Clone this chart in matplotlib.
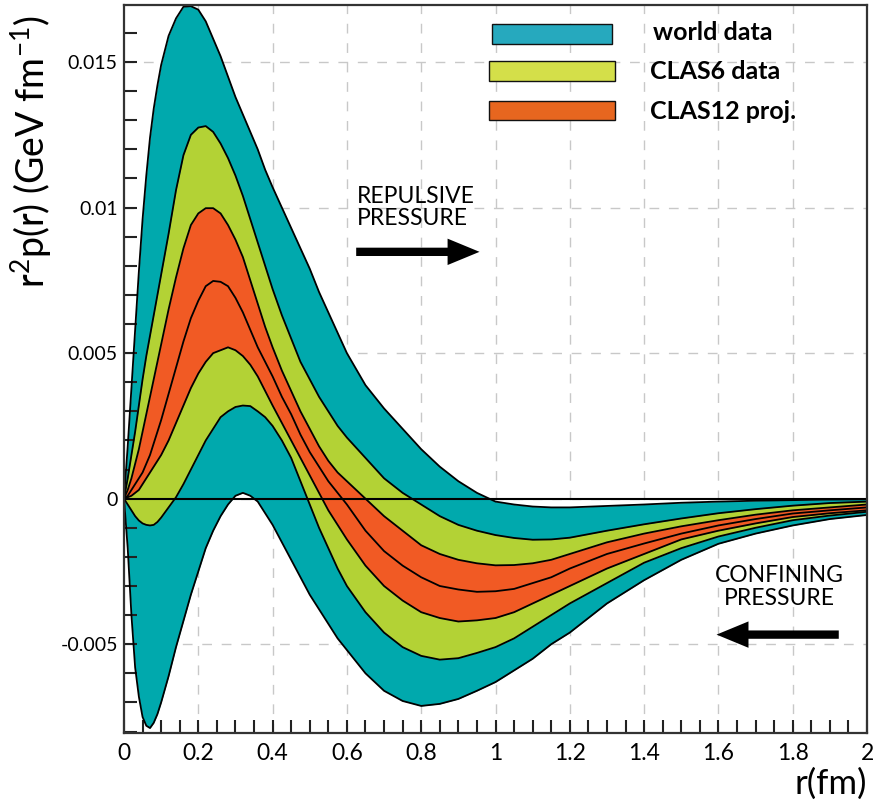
import matplotlib
matplotlib.use("Agg")
import matplotlib.pyplot as plt
from matplotlib.patches import Rectangle
from matplotlib.ticker import MultipleLocator, FixedLocator

# ---------------- data ----------------
r = [0, 0.01, 0.02, 0.03, 0.04, 0.05, 0.06, 0.07, 0.08, 0.09, 0.1,
     0.12, 0.14, 0.16, 0.18, 0.2, 0.22, 0.24, 0.26, 0.28, 0.3, 0.32, 0.34,
     0.36, 0.38, 0.4, 0.425, 0.45, 0.475, 0.5, 0.525, 0.55, 0.575, 0.6,
     0.65, 0.7, 0.75, 0.8, 0.85, 0.9, 0.95, 1.0, 1.05, 1.1, 1.15, 1.2,
     1.3, 1.4, 1.5, 1.6, 1.7, 1.8, 1.9, 2.0]

world_upper = [0, 0.0018, 0.0038, 0.0058, 0.0078, 0.0096, 0.0111, 0.0124, 0.0134,
               0.0142, 0.0149, 0.0159, 0.0165, 0.0169, 0.01692, 0.0168, 0.0164,
               0.0158, 0.0152, 0.0145, 0.0138, 0.0132, 0.0126, 0.0120, 0.0113,
               0.0107, 0.0100, 0.0093, 0.0086, 0.0079, 0.0071, 0.0064, 0.0057,
               0.0050, 0.0039, 0.0031, 0.0024, 0.0017, 0.0011, 0.0006, 0.0002,
               -0.0001, -0.0002, -0.00027, -0.0003, -0.0003, -0.00025, -0.0002,
               -0.00014, -0.0001, -0.00007, -0.00005, -0.00003, -0.00002]
clas6_upper = [0, 0.0007, 0.0015, 0.0023, 0.0032, 0.0041, 0.0049, 0.0056, 0.0063,
               0.0070, 0.0077, 0.0091, 0.0106, 0.0118, 0.0125, 0.01275, 0.0128,
               0.0126, 0.0122, 0.0117, 0.0111, 0.0104, 0.0096, 0.0088, 0.0080,
               0.0072, 0.0063, 0.0055, 0.0047, 0.0041, 0.0035, 0.0030, 0.0025,
               0.0021, 0.0014, 0.0007, 0.0002, -0.0002, -0.0006, -0.0009, -0.0011,
               -0.00125, -0.00135, -0.00141, -0.0014, -0.00134, -0.0011, -0.00088,
               -0.00068, -0.0005, -0.00036, -0.00024, -0.00015, -0.0001]
clas12_upper = [0, 0.0003, 0.0007, 0.0012, 0.0017, 0.0023, 0.0029, 0.0035, 0.0041,
                0.0047, 0.0053, 0.0065, 0.0076, 0.0086, 0.0094, 0.0098, 0.00998,
                0.00998, 0.0098, 0.0094, 0.0089, 0.0083, 0.0075, 0.0067, 0.0059,
                0.0052, 0.0044, 0.0037, 0.0030, 0.0024, 0.0018, 0.0013, 0.0009,
                0.0006, 0.0000, -0.0006, -0.0011, -0.0016, -0.0019, -0.0021,
                -0.00222, -0.00229, -0.00228, -0.00222, -0.0021, -0.0019, -0.0015,
                -0.0012, -0.00095, -0.00074, -0.00055, -0.0004, -0.0003, -0.0002]
central = [0, 0.0001, 0.0003, 0.0005, 0.0007, 0.0009, 0.0012, 0.0015, 0.0019,
           0.0023, 0.0027, 0.0036, 0.0045, 0.0054, 0.0062, 0.0068, 0.0073,
           0.00748, 0.00745, 0.0073, 0.0069, 0.0064, 0.0058, 0.0052, 0.0047,
           0.0042, 0.0035, 0.0029, 0.0022, 0.0016, 0.0011, 0.0006, 0.0002,
           -0.0002, -0.0011, -0.0018, -0.0023, -0.0027, -0.0030, -0.00312,
           -0.0032, -0.00318, -0.0031, -0.0029, -0.0027, -0.0024, -0.0019,
           -0.00154, -0.0012, -0.00092, -0.0007, -0.00051, -0.0004, -0.0003]
clas12_lower = [0, 0.00005, 0.0001, 0.0002, 0.0003, 0.0005, 0.0007, 0.0009, 0.0011,
                0.0013, 0.0015, 0.0020, 0.0026, 0.0032, 0.0038, 0.0043, 0.0047,
                0.0050, 0.0051, 0.0052, 0.0051, 0.0049, 0.0046, 0.0042, 0.0037,
                0.0032, 0.0026, 0.0020, 0.0014, 0.0008, 0.0002, -0.0004, -0.0009,
                -0.0014, -0.0023, -0.0030, -0.0035, -0.0039, -0.0041, -0.00422,
                -0.00418, -0.0041, -0.0039, -0.0036, -0.0033, -0.0030, -0.0024,
                -0.0019, -0.0014, -0.0011, -0.00085, -0.00063, -0.0005, -0.0004]
clas6_lower = [0, -0.0002, -0.0004, -0.0006, -0.00075, -0.00085, -0.0009, -0.00092,
               -0.0009, -0.0008, -0.00065, -0.0003, 0.00005, 0.0005, 0.0010, 0.0015,
               0.0020, 0.0024, 0.0028, 0.0030, 0.00315, 0.0032, 0.00318, 0.0030,
               0.0028, 0.0025, 0.0020, 0.0014, 0.0006, -0.0002, -0.0010, -0.0017,
               -0.0024, -0.0030, -0.0039, -0.0046, -0.0051, -0.0054, -0.00553,
               -0.00548, -0.0053, -0.0051, -0.0048, -0.0044, -0.0040, -0.0036,
               -0.0029, -0.0022, -0.0017, -0.0013, -0.0010, -0.00074, -0.00058,
               -0.00045]
world_lower = [0, -0.0017, -0.0040, -0.0058, -0.0068, -0.0075, -0.0078, -0.00788,
               -0.0077, -0.0074, -0.0070, -0.0061, -0.0051, -0.0042, -0.0033,
               -0.0025, -0.0017, -0.0011, -0.0006, -0.0002, 0.0001, 0.0002, 0.0001,
               -0.0001, -0.0005, -0.0009, -0.0015, -0.0021, -0.0027, -0.0033,
               -0.0038, -0.0043, -0.0048, -0.0052, -0.0060, -0.0066, -0.00695,
               -0.00712, -0.00705, -0.00688, -0.0066, -0.0063, -0.0059, -0.0055,
               -0.0050, -0.0046, -0.0036, -0.0028, -0.0021, -0.00155, -0.0012,
               -0.00092, -0.0007, -0.00056]

legend_labels = ["world data", "CLAS6 data", "CLAS12 proj."]
x_ticks = [0, 0.2, 0.4, 0.6, 0.8, 1.0, 1.2, 1.4, 1.6, 1.8, 2.0]
x_ticklabels = ["0", "0.2", "0.4", "0.6", "0.8", "1", "1.2", "1.4", "1.6", "1.8", "2"]
y_ticks = [-0.005, 0, 0.005, 0.01, 0.015]
y_ticklabels = ["-0.005", "0", "0.005", "0.01", "0.015"]

# ---------------- style ----------------
TEAL, GREEN, ORANGE = "#00a9ad", "#b3d235", "#f15a24"
LEG_COLORS = ["#26a9be", "#d4df49", "#e7661f"]
plt.rcParams["font.family"] = ["Lato", "DejaVu Sans"]

W, H = 892, 802
fig = plt.figure(figsize=(W / 100, H / 100), dpi=100)
ax = fig.add_axes([124 / W, 1 - 733 / H, (867 - 124) / W, (733 - 5) / H])
ax.set_xlim(0, 2)
ax.set_ylim(-0.00805, 0.01696)

# grid
for xv in x_ticks[1:-1]:
    ax.axvline(xv, color="#c8c8c8", lw=1.0, dashes=(7, 7), zorder=0)
for yv in y_ticks:
    ax.axhline(yv, color="#c8c8c8", lw=1.0, dashes=(7, 7), zorder=0)

# bands
ax.fill_between(r, world_lower, world_upper, color=TEAL, lw=0, zorder=1)
ax.fill_between(r, clas6_lower, clas6_upper, color=GREEN, lw=0, zorder=2)
ax.fill_between(r, clas12_lower, clas12_upper, color=ORANGE, lw=0, zorder=3)
for curve in (world_upper, clas6_upper, clas12_upper, central,
              clas12_lower, clas6_lower, world_lower):
    ax.plot(r, curve, color="black", lw=1.3, zorder=4,
            solid_joinstyle="round", solid_capstyle="round")
ax.axhline(0, color="black", lw=1.5, zorder=5)

# ticks
ax.xaxis.set_major_locator(FixedLocator(x_ticks))
ax.yaxis.set_major_locator(FixedLocator(y_ticks))
ax.set_xticklabels(x_ticklabels)
ax.set_yticklabels(y_ticklabels)
ax.xaxis.set_minor_locator(MultipleLocator(0.05))
ax.yaxis.set_minor_locator(MultipleLocator(0.001))
ax.tick_params(which="both", direction="in", length=9.5, width=1.5,
               color="#222222", top=False, right=False)
ax.tick_params(axis="y", which="major", labelsize=14, pad=4.5)
ax.tick_params(axis="x", which="major", labelsize=16.5, pad=7)
for s in ax.spines.values():
    s.set_color("#333333")
    s.set_linewidth(1.6)
    s.set_zorder(6)

# axis labels
fig.text(31 / W, 1 - 152 / H, r"r$\mathregular{^2}$p(r) (GeV fm$\mathregular{^{-1}}$)",
         rotation=90, ha="center", va="center", fontsize=27)
fig.text(867 / W, 1 - 784 / H, "r(fm)", ha="right", va="center", fontsize=25)

# annotations
arrow_style = "simple,head_length=1.15,head_width=0.95,tail_width=0.3"
ax.text(0.628, 0.0100, "REPULSIVE\nPRESSURE", ha="left", va="center",
        fontsize=16.5, linespacing=1.1, zorder=7)
ax.annotate("", xy=(0.957, 0.00848), xytext=(0.625, 0.00848),
            arrowprops=dict(arrowstyle=arrow_style, lw=0, color="black",
                            shrinkA=0, shrinkB=0, mutation_scale=20), zorder=7)
ax.text(1.765, -0.00303, "CONFINING\nPRESSURE", ha="center", va="center",
        fontsize=16.5, linespacing=1.1, multialignment="center", zorder=7)
ax.annotate("", xy=(1.595, -0.00467), xytext=(1.924, -0.00467),
            arrowprops=dict(arrowstyle=arrow_style, lw=0, color="black",
                            shrinkA=0, shrinkB=0, mutation_scale=20), zorder=7)

# legend (drawn manually)
rects = [(492, 24, 612, 44), (489, 61, 615, 81), (489, 101, 615, 120)]
text_pos = [(653, 40), (650, 79), (650, 119)]
for (x0, y0, x1, y1), c, (tx, ty), lab in zip(rects, LEG_COLORS, text_pos, legend_labels):
    fig.patches.append(Rectangle((x0 / W, 1 - y1 / H), (x1 - x0) / W, (y1 - y0) / H,
                                 transform=fig.transFigure, facecolor=c,
                                 edgecolor="#111111", lw=1.0, zorder=8))
    fig.text(tx / W, 1 - ty / H, lab, ha="left", va="baseline", fontsize=18,
             fontweight="bold", zorder=8)

fig.savefig("out.png", dpi=100)
